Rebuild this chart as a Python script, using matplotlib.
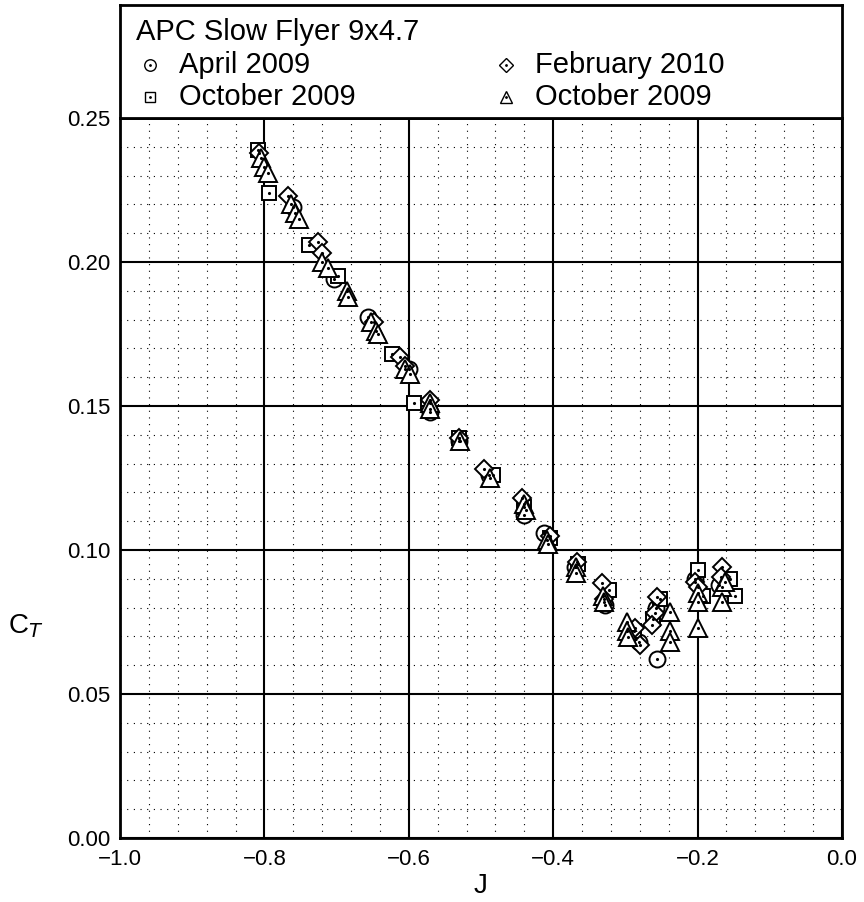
import matplotlib
matplotlib.use("Agg")
import matplotlib.pyplot as plt
from matplotlib.ticker import MultipleLocator

plt.rcParams['font.family'] = ['Liberation Sans', 'DejaVu Sans']

title = "APC Slow Flyer 9x4.7"
labels = ["April 2009", "October 2009", "February 2010", "October 2009"]

apr09_J = [-0.760, -0.703, -0.657, -0.600, -0.571, -0.530, -0.489, -0.441, -0.413,
           -0.370, -0.328, -0.281, -0.256, -0.258, -0.204, -0.170]
apr09_CT = [0.219, 0.194, 0.181, 0.163, 0.148, 0.138, 0.126, 0.112, 0.106,
            0.094, 0.081, 0.068, 0.062, 0.080, 0.090, 0.088]

oct09a_J = [-0.809, -0.794, -0.738, -0.698, -0.623, -0.593, -0.530, -0.484, -0.440,
            -0.405, -0.365, -0.323, -0.288, -0.252, -0.262, -0.200, -0.193, -0.155, -0.148]
oct09a_CT = [0.239, 0.224, 0.206, 0.195, 0.168, 0.151, 0.139, 0.126, 0.115,
             0.104, 0.095, 0.086, 0.072, 0.083, 0.076, 0.093, 0.084, 0.090, 0.084]

feb10_J = [-0.807, -0.767, -0.726, -0.720, -0.648, -0.612, -0.605, -0.571, -0.530,
           -0.496, -0.443, -0.405, -0.367, -0.332, -0.330, -0.287, -0.280, -0.256,
           -0.259, -0.263, -0.203, -0.200, -0.166, -0.168]
feb10_CT = [0.238, 0.223, 0.207, 0.203, 0.179, 0.167, 0.164, 0.152, 0.139,
            0.128, 0.118, 0.105, 0.096, 0.0885, 0.083, 0.073, 0.067, 0.0837,
            0.078, 0.074, 0.089, 0.087, 0.094, 0.0905]

oct09b_J = [-0.805, -0.800, -0.795, -0.763, -0.757, -0.752, -0.720, -0.712, -0.686,
            -0.684, -0.652, -0.646, -0.643, -0.605, -0.598, -0.571, -0.570, -0.529,
            -0.487, -0.440, -0.438, -0.408, -0.407, -0.368, -0.368, -0.331, -0.329,
            -0.298, -0.298, -0.296, -0.238, -0.238, -0.238, -0.200, -0.200, -0.200,
            -0.166, -0.166, -0.162]
oct09b_CT = [0.236, 0.233, 0.231, 0.220, 0.217, 0.215, 0.200, 0.198, 0.190,
             0.188, 0.179, 0.176, 0.175, 0.163, 0.161, 0.151, 0.149, 0.138,
             0.125, 0.116, 0.114, 0.1035, 0.102, 0.094, 0.092, 0.084, 0.082,
             0.075, 0.072, 0.0698, 0.0785, 0.072, 0.068, 0.073, 0.085, 0.082,
             0.087, 0.082, 0.089]

series = [(apr09_J, apr09_CT, 'o', 11.5), (oct09a_J, oct09a_CT, 's', 10.5),
          (feb10_J, feb10_CT, 'D', 9.5), (oct09b_J, oct09b_CT, '^', 12.5)]

fig = plt.figure(figsize=(8.64, 9.02), dpi=100)
ax = fig.add_axes([120/864, 64/902, 722/864, 720/902])
lax = fig.add_axes([120/864, 784/902, 722/864, 113/902])

for J, CT, m, s in series:
    ax.plot(J, CT, linestyle='none', marker=m, markersize=s, markerfacecolor='white',
            markeredgecolor='black', markeredgewidth=1.4, zorder=3)
    ax.plot(J, CT, linestyle='none', marker='.', markersize=2.5, color='black', zorder=4)

ax.set_xlim(-1.0, 0.0)
ax.set_ylim(0.0, 0.25)
ax.xaxis.set_major_locator(MultipleLocator(0.2))
ax.xaxis.set_minor_locator(MultipleLocator(0.04))
ax.yaxis.set_major_locator(MultipleLocator(0.05))
ax.yaxis.set_minor_locator(MultipleLocator(0.01))
ax.set_xticklabels([f"{v:.1f}".replace('-', '\u2212') for v in ax.get_xticks()])
ax.set_yticklabels([f"{v:.2f}" for v in ax.get_yticks()])
ax.grid(which='major', color='black', linewidth=1.5, linestyle='-')
ax.grid(which='minor', color='black', linewidth=0.8, linestyle=(0, (1, 5)))
ax.set_axisbelow(True)
ax.tick_params(which='both', length=0, labelsize=16)
ax.tick_params(axis='x', pad=8)
ax.tick_params(axis='y', pad=7)
for lbl in ax.get_yticklabels():
    lbl.set_va('center_baseline')
for sp in ax.spines.values():
    sp.set_linewidth(2)
ax.set_xlabel("J", fontsize=20, labelpad=2)
ax.set_ylabel(r"C$_T$", fontsize=20, rotation=0)
ax.yaxis.set_label_coords(-0.13, 0.275)

lax.set_xlim(0, 1)
lax.set_ylim(0, 1)
lax.set_xticks([])
lax.set_yticks([])
for sp in lax.spines.values():
    sp.set_linewidth(2)
lax.text(0.022, 0.76, title, fontsize=21, va='center', ha='left')
pos = [(0.042, 0.47), (0.042, 0.186), (0.535, 0.47), (0.535, 0.186)]
for (x, y), lab, (_, _, m, s) in zip(pos, labels, series):
    lax.plot([x], [y], linestyle='none', marker=m, markersize=s * 0.72,
             markerfacecolor='white', markeredgecolor='black', markeredgewidth=1.0)
    lax.plot([x], [y], linestyle='none', marker='.', markersize=2, color='black')
    lax.text(x + 0.04, y, lab, fontsize=21, va='center', ha='left')

fig.savefig("out.png", dpi=100)
